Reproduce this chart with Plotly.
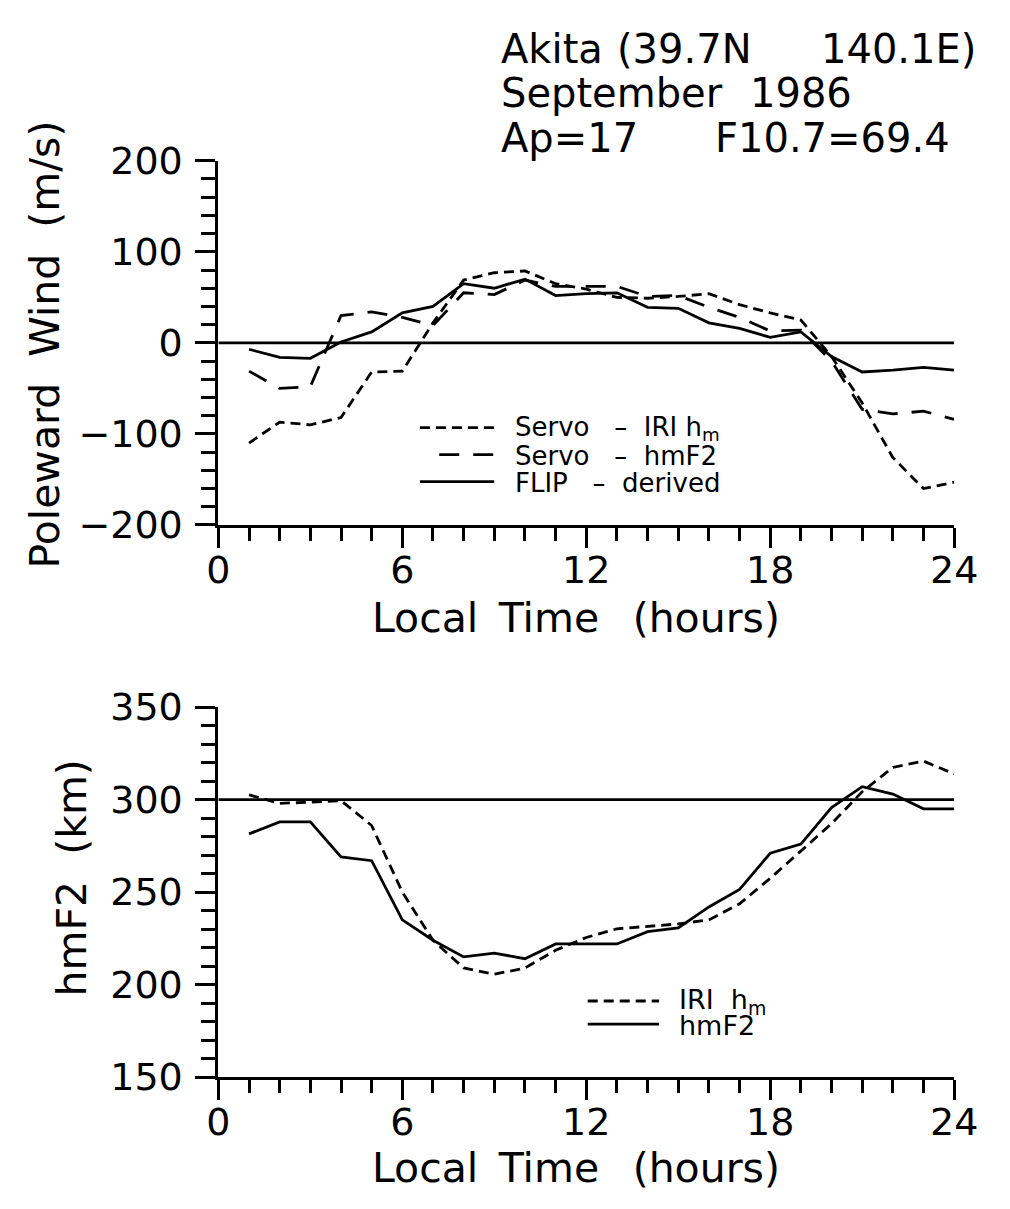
import plotly.graph_objects as go

# ---------------- data ----------------
hours = list(range(1, 25))
wind_servo_iri = [-110, -87, -90, -82, -32, -31, 22, 69, 77, 79, 65, 59,
                  50, 49, 51, 54, 42, 33, 25, -15, -66, -126, -160, -153]
wind_servo_hmf2 = [-31, -50, -48, 30, 34, 28, 19, 55, 53, 69, 62, 62,
                   62, 51, 52, 39, 28, 13, 14, -20, -73, -78, -75, -84]
wind_flip = [-7, -16, -17, 1, 12, 33, 40, 65, 60, 70, 52, 54,
             55, 39, 38, 22, 16, 6, 12, -15, -32, -30, -27, -30]
hm_iri = [302.6, 298, 298.6, 299.5, 286, 250, 224, 209, 205.6, 209, 218.6, 225.5,
          230.2, 231.6, 232.8, 235, 243.7, 257.5, 272.3, 287, 304.3, 317.4, 320.8, 313.9]
hm_f2 = [281.5, 288, 288, 269, 267, 235, 224, 215, 217, 214, 222, 222,
         222, 228.6, 230.7, 242, 251.5, 271, 276, 295.7, 307, 303, 295, 295]
ref_x = [0, 24]
ref_wind = [0, 0]
ref_hm = [300, 300]

W, H = 1010, 1209
FONT = "DejaVu Sans"
SHORT = "10px,6px"
LONG = "20px,14px"
LW = 2.8


def px(x):
    return x / W


def py(y):
    return 1 - y / H


fig = go.Figure()

# top panel
fig.add_trace(go.Scatter(x=ref_x, y=ref_wind, mode="lines", line=dict(color="black", width=LW),
                         xaxis="x", yaxis="y", showlegend=False))
fig.add_trace(go.Scatter(x=hours, y=wind_servo_iri, mode="lines", name="Servo – IRI hm",
                         line=dict(color="black", width=LW, dash=SHORT), xaxis="x", yaxis="y"))
fig.add_trace(go.Scatter(x=hours, y=wind_servo_hmf2, mode="lines", name="Servo – hmF2",
                         line=dict(color="black", width=LW, dash=LONG), xaxis="x", yaxis="y"))
fig.add_trace(go.Scatter(x=hours, y=wind_flip, mode="lines", name="FLIP – derived",
                         line=dict(color="black", width=LW), xaxis="x", yaxis="y"))

# bottom panel
fig.add_trace(go.Scatter(x=ref_x, y=ref_hm, mode="lines", line=dict(color="black", width=LW),
                         xaxis="x2", yaxis="y2", showlegend=False))
fig.add_trace(go.Scatter(x=hours, y=hm_iri, mode="lines", name="IRI hm",
                         line=dict(color="black", width=LW, dash=SHORT), xaxis="x2", yaxis="y2"))
fig.add_trace(go.Scatter(x=hours, y=hm_f2, mode="lines", name="hmF2",
                         line=dict(color="black", width=LW), xaxis="x2", yaxis="y2"))

tickfont = dict(family=FONT, size=38, color="black")
xdom = [px(214), px(977)]

xcommon = dict(domain=xdom, range=[0, 24], tickmode="linear", tick0=0, dtick=6,
               ticks="outside", ticklen=20, tickwidth=2.5, tickcolor="black",
               minor=dict(dtick=1, ticks="outside", ticklen=13, tickwidth=2.5, tickcolor="black"),
               showline=True, linewidth=3, linecolor="black", showgrid=False, zeroline=False,
               tickfont=tickfont, ticklabelstandoff=-11)
ycommon = dict(ticks="outside", ticklen=20, tickwidth=2.5, tickcolor="black",
               showline=True, linewidth=3, linecolor="black", showgrid=False, zeroline=False,
               tickfont=tickfont, ticklabelstandoff=5)

fig.update_layout(
    width=W, height=H,
    margin=dict(l=0, r=0, t=0, b=0),
    paper_bgcolor="white", plot_bgcolor="white",
    showlegend=False,
    xaxis=dict(**xcommon, anchor="y"),
    yaxis=dict(**ycommon, domain=[py(522), py(144)], range=[-200, 200], tickmode="linear",
               tick0=-200, dtick=100,
               minor=dict(dtick=20, ticks="outside", ticklen=14, tickwidth=2.5, tickcolor="black"),
               anchor="x"),
    xaxis2=dict(**xcommon, anchor="y2"),
    yaxis2=dict(**ycommon, domain=[py(1095), py(711)], range=[150, 350], tickmode="linear",
                tick0=150, dtick=50,
                minor=dict(dtick=10, ticks="outside", ticklen=14, tickwidth=2.5, tickcolor="black"),
                anchor="x2"),
)

ann = []


def text(x, y, s, size, xanchor="left", angle=0):
    ann.append(dict(x=px(x), y=py(y), xref="paper", yref="paper", text=s, showarrow=False,
                    xanchor=xanchor, yanchor="middle", textangle=angle,
                    font=dict(family=FONT, size=size, color="black")))


NB = "\u00a0"
EN = "\u2002"
# header
text(505, 28, "Akita", 40)
text(625, 28, "(39.7N", 40)
text(837, 28, "140.1E)", 40)
text(505, 74, "September", 40)
text(763, 74, "1986", 40)
text(505, 120, "Ap=17", 40)
text(727, 120, "F10.7=69.4", 40)

# axis titles
xtitle = "Local" + EN + "Time" + NB + EN + "(hours)"
text(585, 619, xtitle, 41, xanchor="center")
text(585, 1189, xtitle, 41, xanchor="center")
text(34, 335, "Poleward" + NB * 2 + "Wind" + NB * 2 + "(m/s)", 41, xanchor="center", angle=-90)
text(62, 888, "hmF2" + NB * 2 + "(km)", 41, xanchor="center", angle=-90)

# legends
shapes = []


def legline(x0, x1, y, dash):
    shapes.append(dict(type="line", xref="paper", yref="paper", x0=px(x0), x1=px(x1),
                       y0=py(y), y1=py(y), line=dict(color="black", width=LW, dash=dash)))


legline(423, 500, 421, SHORT)
legline(443, 500, 449, LONG)
legline(423, 500, 477, "solid")
text(520, 422, "Servo" + NB * 3 + "–" + NB * 2 + "IRI" + NB + "h<sub>m</sub>", 26)
text(520, 450, "Servo" + NB * 3 + "–" + NB * 2 + "hmF2", 26)
text(520, 478, "FLIP" + NB * 3 + "–" + NB * 2 + "derived", 26)

legline(597, 671, 1016, SHORT)
legline(597, 671, 1040, "solid")
text(690, 1017, "IRI" + NB * 2 + "h<sub>m</sub>", 27)
text(690, 1041, "hmF2", 27)

fig.update_layout(annotations=ann, shapes=shapes)
fig.write_html("out.html", config={"displayModeBar": False},
               post_script="document.body.style.margin='0';")
